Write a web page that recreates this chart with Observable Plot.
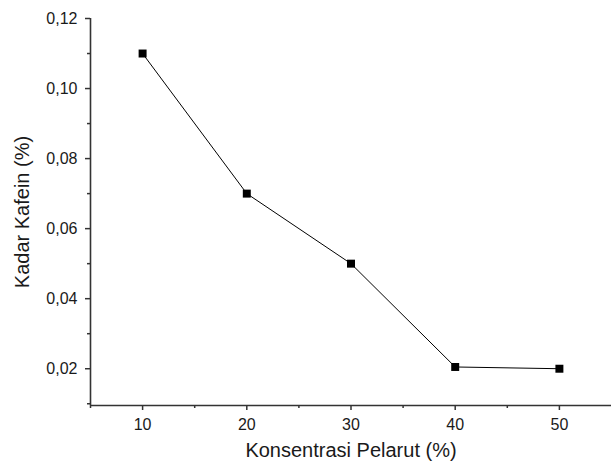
<!DOCTYPE html>
<html><head><meta charset="utf-8">
<script src="https://cdn.jsdelivr.net/npm/d3@7"></script>
<script src="https://cdn.jsdelivr.net/npm/@observablehq/plot@0.6"></script>
<style>body{margin:0;background:#fff;} svg{font-family:"Liberation Sans",Arial,sans-serif;}</style>
</head><body><div id="chart"></div>
<script>
const konsentrasi = [10, 20, 30, 40, 50];
const kafein = [0.11, 0.07, 0.05, 0.0205, 0.02];
const xTicks = [10, 20, 30, 40, 50];
const xMinor = [5, 15, 25, 35, 45];
const yTicks = [0.02, 0.04, 0.06, 0.08, 0.10, 0.12];
const yMinor = [0.01, 0.03, 0.05, 0.07, 0.09, 0.11];
const xDomain = [5, 55];
const yDomain = [0.0095, 0.12];
const xLabel = "Konsentrasi Pelarut (%)";
const yLabel = "Kadar Kafein (%)";

const data = konsentrasi.map((k, i) => ({k, v: kafein[i]}));
const fmt = d => d.toFixed(2).replace(".", ",");

const chart = Plot.plot({
  width: 611, height: 470,
  marginLeft: 90, marginTop: 18, marginBottom: 65, marginRight: 0,
  style: {fontSize: "16px", fontFamily: "Liberation Sans, Arial, sans-serif", color: "#1a1a1a"},
  x: {domain: xDomain},
  y: {domain: yDomain},
  marks: [
    Plot.ruleX([xDomain[0]], {y1: yDomain[0], y2: yDomain[1], stroke: "#333", strokeWidth: 1.6}),
    Plot.ruleY([yDomain[0]], {x1: xDomain[0], x2: xDomain[1], stroke: "#333", strokeWidth: 1.6}),
    Plot.axisX({ticks: xTicks, tickSize: 5, tickPadding: 8, stroke: "#333", strokeWidth: 1.5, label: null, fontSize: 16}),
    Plot.axisX({ticks: xMinor, tickSize: 3, stroke: "#333", strokeWidth: 1.5, text: null, label: null}),
    Plot.axisY({ticks: yTicks, tickSize: 5, tickPadding: 8, tickFormat: fmt, stroke: "#333", strokeWidth: 1.5, label: null, fontSize: 16}),
    Plot.axisY({ticks: yMinor, tickSize: 3, stroke: "#333", strokeWidth: 1.5, text: null, label: null}),
    Plot.text([xLabel], {frameAnchor: "bottom", dy: 51, fontSize: 20, fill: "#1a1a1a"}),
    Plot.text([yLabel], {frameAnchor: "left", dx: -68, rotate: -90, textAnchor: "middle", fontSize: 20, fill: "#1a1a1a"}),
    Plot.line(data, {x: "k", y: "v", stroke: "#000", strokeWidth: 1}),
    Plot.dot(data, {x: "k", y: "v", symbol: "square", r: 4.5, fill: "#000", stroke: "none"})
  ]
});
document.getElementById("chart").append(chart);
</script></body></html>
